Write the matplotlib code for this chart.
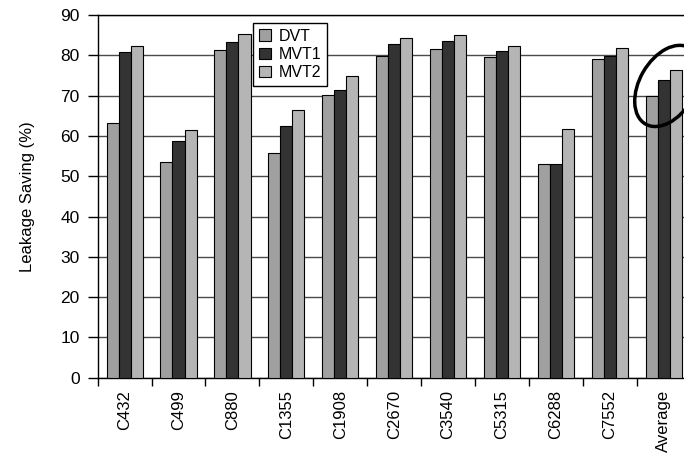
import numpy as np
import matplotlib
matplotlib.use("Agg")
import matplotlib.pyplot as plt
from matplotlib.patches import Ellipse
from matplotlib.transforms import ScaledTranslation

circuits = ["C432", "C499", "C880", "C1355", "C1908", "C2670", "C3540",
            "C5315", "C6288", "C7552", "Average"]
dvt = [63.3, 53.4, 81.3, 55.8, 70.2, 79.9, 81.6, 79.7, 53.0, 79.0, 69.9]
mvt1 = [80.9, 58.7, 83.2, 62.5, 71.5, 82.9, 83.5, 81.0, 53.0, 79.9, 73.8]
mvt2 = [82.3, 61.4, 85.2, 66.5, 74.8, 84.2, 85.0, 82.4, 61.6, 81.7, 76.4]
series_names = ["DVT", "MVT1", "MVT2"]
yticks = list(range(0, 91, 10))

plt.rcParams["font.family"] = ["Liberation Sans", "DejaVu Sans"]

fig = plt.figure(figsize=(6.84, 4.53), dpi=100)
ax = fig.add_axes([0.1428, 0.1662, 1.0097 - 0.1428, 0.9669 - 0.1662])

x = np.arange(len(circuits))
w = 0.224
colors = ["#a0a0a0", "#333333", "#b5b5b5"]
for i, (vals, name) in enumerate(zip([dvt, mvt1, mvt2], series_names)):
    ax.bar(x + (i - 1) * w, vals, width=w, color=colors[i],
           edgecolor="black", linewidth=0.8, label=name, zorder=3)

ax.set_xlim(-0.5, len(circuits) - 0.5)
ax.set_ylim(0, 90)
ax.set_yticks(yticks)
ax.yaxis.grid(True, color="#4a4a4a", linewidth=1.0, zorder=0)
ax.set_axisbelow(True)

ax.set_xticks(x)
ax.set_xticklabels(circuits, rotation=90, fontsize=12)
ax.tick_params(axis="x", which="major", length=0, pad=9)
ax.set_xticks(np.arange(len(circuits) + 1) - 0.5, minor=True)
ax.tick_params(axis="x", which="minor", length=6, width=1, direction="out")
ax.tick_params(axis="y", length=7, width=1, direction="out", labelsize=12.5, pad=6)

for s in ax.spines.values():
    s.set_color("black")
    s.set_linewidth(1.0)

ax.set_ylabel("Leakage Saving (%)", fontsize=12, labelpad=18)

leg = ax.legend(loc="upper left", bbox_to_anchor=(0.262, 0.978),
                borderaxespad=0, fontsize=11.5, frameon=True, fancybox=False,
                framealpha=1, edgecolor="black", handlelength=0.75,
                handleheight=0.7, handletextpad=0.5, labelspacing=0.2,
                borderpad=0.35)
leg.get_frame().set_linewidth(1.0)

# Highlight ring around the average group
ring = Ellipse((0, 0), 0.88, 0.56, angle=60, fill=False, edgecolor="black",
               linewidth=2.5, zorder=5, clip_on=False,
               transform=fig.dpi_scale_trans + ScaledTranslation(10.07, 72.4, ax.transData))
ax.add_patch(ring)

fig.savefig("out.png", dpi=100)
